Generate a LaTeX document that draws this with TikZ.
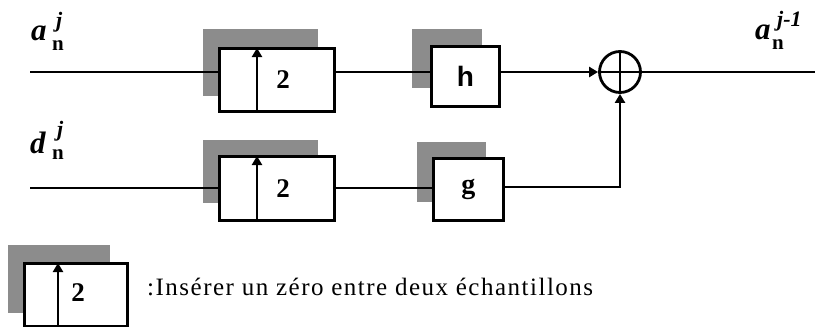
\documentclass[tikz,border=0pt]{standalone}
\usepackage{fontspec}
\setmainfont{Liberation Serif}
\newfontfamily\sansf{Liberation Sans}
\newfontfamily\legf[LetterSpace=6]{Liberation Serif}
\usetikzlibrary{arrows.meta}
\tikzset{
  wire/.style={line width=2.8pt},
  arr/.style={line width=2.8pt,-{Triangle[length=9pt,width=10pt]}},
  shadowbox/.style={fill=black!45,draw=none,inner sep=0pt,anchor=north west},
  whitebox/.style={fill=white,draw=black,line width=2.8pt,inner sep=0pt,anchor=north west},
  big/.style={font=\fontsize{31}{32}\selectfont\bfseries\itshape,inner sep=0pt,anchor=base west},
  sub/.style={font=\fontsize{21}{22}\selectfont\bfseries,inner sep=0pt,anchor=base west},
  sup/.style={font=\fontsize{22}{23}\selectfont\bfseries\itshape,inner sep=0pt,anchor=base west},
  num/.style={font=\fontsize{27}{28}\selectfont\bfseries,inner sep=0pt},
}
\begin{document}
\begin{tikzpicture}[x=1pt,y=-1pt]
\useasboundingbox (0,0) rectangle (815,327);
% ---- top row
\node[shadowbox,minimum width=115pt,minimum height=67pt] (s1) at (203,29) {};
\node[whitebox,minimum width=115pt,minimum height=63pt] (u1) at (218,47) {};
\coordinate (u1b) at (257,110);
\coordinate (u1t) at (257,48);
\draw[arr] (u1b) -- (u1t);
\node[num] (u1n) at (283,80) {2};
\node[shadowbox,minimum width=70pt,minimum height=59pt] (sh) at (412,29) {};
\node[whitebox,minimum width=68pt,minimum height=60pt,font=\sansf\fontsize{28}{30}\selectfont\bfseries] (h) at (430,45) {h};
\node[draw=black,line width=2.8pt,circle,minimum size=41pt,inner sep=0pt] (sum) at (620,72) {};
\draw[line width=2.8pt] (sum.north) -- (sum.south) (sum.west) -- (sum.east);
\coordinate (in1) at (30,72);
\coordinate (out) at (815,72);
\draw[wire] (in1) -- (u1.west |- in1);
\draw[wire] (u1.east |- in1) -- (h.west |- in1);
\draw[arr] (h.east |- in1) -- (sum.west);
\draw[wire] (sum.east) -- (out);
% labels
\node[big] (la) at (31,40) {a};
\node[sub] (lan) at (52,50) {n};
\node[sup] (laj) at (56,27) {j};
\node[big] (lb) at (755,39) {a};
\node[sub] (lbn) at (772,49) {n};
\node[sup] (lbj) at (777,26) {j-1};
% ---- bottom row
\node[shadowbox,minimum width=115pt,minimum height=63pt] (s2) at (203,140) {};
\node[whitebox,minimum width=115pt,minimum height=64pt] (u2) at (218,155) {};
\coordinate (u2b) at (257,219);
\coordinate (u2t) at (257,156);
\draw[arr] (u2b) -- (u2t);
\node[num] (u2n) at (283,189) {2};
\node[shadowbox,minimum width=69pt,minimum height=60pt] (sg) at (417,142) {};
\node[whitebox,minimum width=70pt,minimum height=62pt,font=\fontsize{28}{30}\selectfont\bfseries] (g) at (432,157) {g};
\coordinate (in2) at (30,188);
\coordinate (bend) at (620,187);
\draw[wire] (in2) -- (u2.west |- in2);
\draw[wire] (u2.east |- in2) -- (g.west |- in2);
\draw[arr] (g.east |- bend) -- (bend) -- (sum.south);
\node[big] (ld) at (30,153) {d};
\node[sub] (ldn) at (52,159) {n};
\node[sup] (ldj) at (57,136) {j};
% ---- legend
\node[shadowbox,minimum width=102pt,minimum height=68pt] (s3) at (8,245) {};
\node[whitebox,minimum width=103pt,minimum height=63pt] (u3) at (23,262) {};
\coordinate (u3b) at (58,325);
\coordinate (u3t) at (58,263);
\draw[arr] (u3b) -- (u3t);
\node[num] (u3n) at (78,293) {2};
\node[anchor=west,inner sep=0pt,font=\legf\fontsize{25}{27}\selectfont] (txt) at (147,287) {:Insérer un zéro entre deux échantillons};
\end{tikzpicture}
\end{document}
